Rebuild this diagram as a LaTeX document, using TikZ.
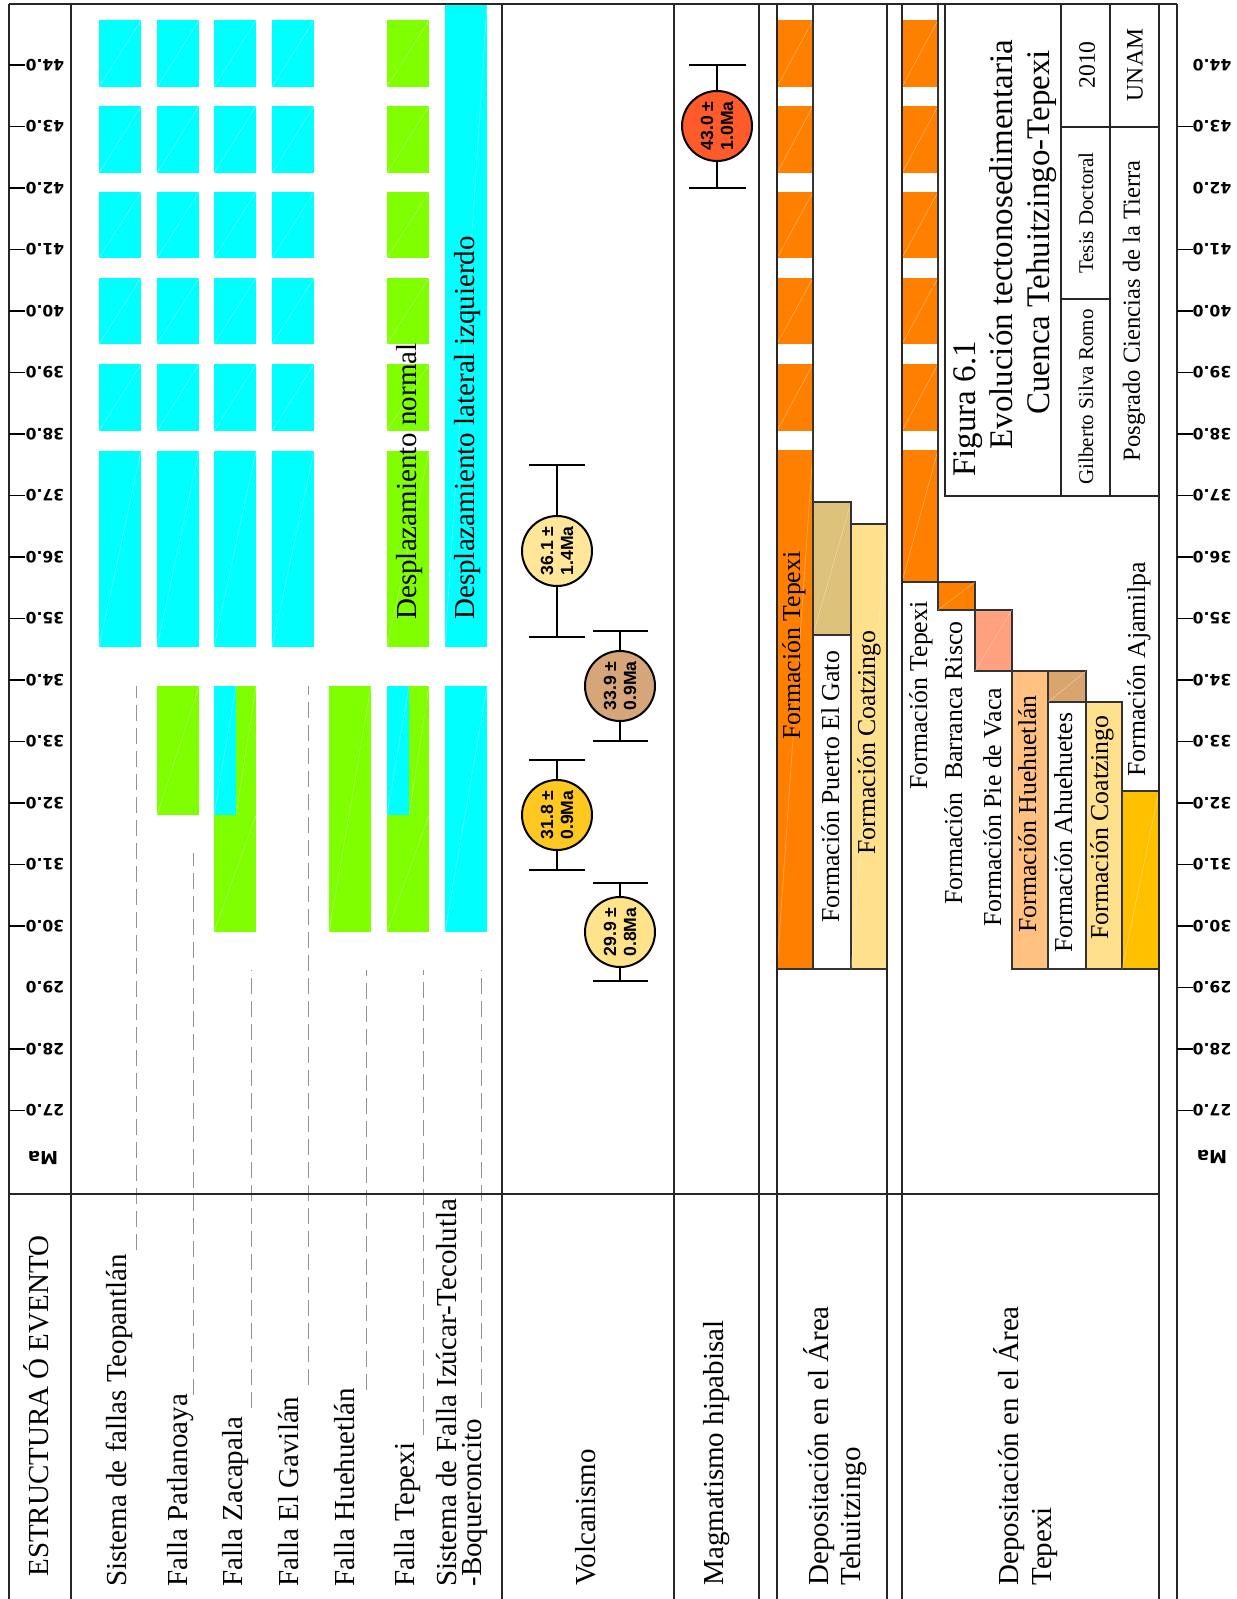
\documentclass[tikz,border=0pt]{standalone}
\usepackage{fontspec}
\setmainfont{Liberation Serif}
\newfontfamily\axisfont{DejaVu Sans}
\newfontfamily\agefont{Liberation Sans}

\definecolor{fcyan}{HTML}{00FFFF}
\definecolor{fgreen}{HTML}{80FF00}
\definecolor{forange}{HTML}{FF8000}
\definecolor{gato}{HTML}{DCC27A}
\definecolor{coatz}{HTML}{FFE08C}
\definecolor{pievaca}{HTML}{FFA07F}
\definecolor{hueh}{HTML}{FFC080}
\definecolor{ahueh}{HTML}{D9A46E}
\definecolor{ajam}{HTML}{FFC000}
\definecolor{ageA}{HTML}{FFE699}
\definecolor{ageB}{HTML}{D6A57A}
\definecolor{ageC}{HTML}{FFC820}
\definecolor{ageD}{HTML}{FFE38A}
\definecolor{ageE}{HTML}{FF5A2A}

\tikzset{
  sect/.style={line width=0.75pt, draw=black!85},
  fmline/.style={line width=0.75pt, draw=black!80},
  streak/.style={white, line width=0.3pt, opacity=0.35},
  leader/.style={draw=gray!85, line width=0.5pt, dash pattern=on 8pt off 3.5pt},
  axtick/.style={line width=0.9pt},
  ebar/.style={line width=1pt},
  agelbl/.style={rotate=180, inner sep=0pt, font=\axisfont\bfseries\fontsize{7.8}{9}\selectfont},
  hdr/.style={rotate=90, anchor=base west, inner sep=0pt, font=\fontsize{14.5}{16}\selectfont},
  fmlbl/.style={rotate=90, anchor=base west, inner sep=0pt, font=\fontsize{12.9}{14}\selectfont},
  cell/.style={rotate=90, inner sep=0pt},
  age/.style={circle, draw, line width=1pt, minimum size=35pt, inner sep=0pt,
              align=center, rotate=90, font=\agefont\bfseries\fontsize{8.8}{10}\selectfont}
}

\newcommand\faultblk[5]{\fill[#5] (#1,#2) rectangle (#3,#4); \draw[streak] (#1,#4) -- (#3,#2);}

\begin{document}
\begin{tikzpicture}[x=0.5pt,y=-0.5pt]
\useasboundingbox (0,0) rectangle (1236,1599);

% faults
\foreach \xa/\xb in {99/141,157/199,214/256,272/314}{
  \foreach \ya/\yb in {20/87,106/173,192/258,278/344,364/431,451/647}
    \faultblk{\xa}{\ya}{\xb}{\yb}{fcyan};
}
\foreach \ya/\yb in {20/87,106/173,192/258,278/344,364/431,451/647}
  \faultblk{387}{\ya}{429}{\yb}{fgreen};
\faultblk{445}{4}{487}{647}{fcyan};
\faultblk{157}{686}{199}{815}{fgreen};
\faultblk{214}{686}{236}{815}{fcyan};
\faultblk{236}{686}{256}{815}{fgreen};
\faultblk{214}{815}{256}{932}{fgreen};
\faultblk{329}{686}{371}{932}{fgreen};
\faultblk{387}{686}{409}{815}{fcyan};
\faultblk{409}{686}{429}{815}{fgreen};
\faultblk{387}{815}{429}{932}{fgreen};
\faultblk{445}{686}{487}{932}{fcyan};

\node[hdr] (dnorm) at (416,620) {Desplazamiento normal};
\node[hdr] (dlat) at (474,620) {Desplazamiento lateral izquierdo};

% leaders
\draw[leader] (136,1250) -- (136,686);
\draw[leader] (193,1395) -- (193,853);
\draw[leader] (251,1408) -- (251,970);
\draw[leader] (308,1385) -- (308,686);
\draw[leader] (366,1390) -- (366,970);
\draw[leader] (423,1435) -- (423,970);
\draw[leader] (481,1408) -- (481,970);

% depositacion
\foreach \xa/\xb in {777/813,902/938}{
  \foreach \ya/\yb in {20/87,106/173,192/258,278/344,364/431}
    \faultblk{\xa}{\ya}{\xb}{\yb}{forange};
}
\faultblk{777}{450}{813}{969}{forange};
\faultblk{902}{450}{938}{582}{forange};
\draw[fmline] (777,4) rectangle (813,969);
\draw[fmline, fill=gato] (813,502) rectangle (851,635);
\draw[streak] (813,635) -- (851,502);
\draw[fmline] (813,502) rectangle (851,969);
\draw[fmline, fill=coatz] (851,524) rectangle (887,969);
\draw[streak] (851,969) -- (887,524);

\draw[fmline] (902,4) rectangle (938,582);
\draw[fmline, fill=forange] (938,582) rectangle (975,610);
\draw[streak] (938,610) -- (975,582);
\draw[fmline, fill=pievaca] (975,610) rectangle (1012,671);
\draw[streak] (975,671) -- (1012,610);
\draw[fmline, fill=hueh] (1012,671) rectangle (1048,969);
\draw[fmline, fill=ahueh] (1048,671) rectangle (1086,702);
\draw[streak] (1048,702) -- (1086,671);
\draw[fmline] (1048,702) -- (1048,969) -- (1086,969);
\draw[fmline, fill=coatz] (1086,702) rectangle (1122,969);
\draw[fmline, fill=ajam] (1122,791) rectangle (1159,969);
\draw[streak] (1122,969) -- (1159,791);

\node[fmlbl] (t1) at (800,740) {Formación Tepexi};
\node[fmlbl] (t2) at (839,923) {Formación Puerto El Gato};
\node[fmlbl] (t3) at (875,855) {Formación Coatzingo};
\node[fmlbl] (p1) at (927,790) {Formación Tepexi};
\node[fmlbl] (p2) at (962,905) {Formación\ \ Barranca Risco};
\node[fmlbl] (p3) at (1001,927) {Formación Pie de Vaca};
\node[fmlbl] (p4) at (1036,933) {Formación Huehuetlán};
\node[fmlbl] (p5) at (1072,953) {Formación Ahuehuetes};
\node[fmlbl] (p6) at (1108,940) {Formación Coatzingo};
\node[fmlbl] (p7) at (1145,777) {Formación Ajamilpa};

% volcanismo y magmatismo
\draw[ebar] (557,465) -- (557,637) (529,465) -- (585,465) (529,637) -- (585,637);
\draw[ebar] (620,631) -- (620,741) (593,631) -- (648,631) (593,741) -- (648,741);
\draw[ebar] (557,760) -- (557,870) (529,760) -- (585,760) (529,870) -- (585,870);
\draw[ebar] (620,883) -- (620,981) (593,883) -- (648,883) (593,981) -- (648,981);
\draw[ebar] (717,65) -- (717,188) (689,65) -- (746,65) (689,188) -- (746,188);
\node[age, fill=ageA] (v361) at (557,551) {36.1 ±\\1.4Ma};
\node[age, fill=ageB] (v339) at (620,686) {33.9 ±\\0.9Ma};
\node[age, fill=ageC] (v318) at (557,815) {31.8 ±\\0.9Ma};
\node[age, fill=ageD] (v299) at (620,932) {29.9 ±\\0.8Ma};
\node[age, fill=ageE] (m430) at (717,126) {43.0 ±\\1.0Ma};

% cuadro de titulo
\draw[sect] (945,4) rectangle (1159,496);
\draw[sect] (1061,4) -- (1061,496) (1110,4) -- (1110,496);
\draw[sect] (1061,299) -- (1110,299) (1061,127) -- (1159,127);
\node[hdr, font=\fontsize{16.5}{18}\selectfont] (fig) at (975,477) {Figura 6.1};
\node[hdr, font=\fontsize{16.5}{18}\selectfont] (tit1) at (1012,450) {Evolución tectonosedimentaria};
\node[hdr, font=\fontsize{16.5}{18}\selectfont] (tit2) at (1049,415) {Cuenca Tehuitzingo-Tepexi};
\node[cell, font=\fontsize{10.5}{12}\selectfont] (autor) at (1086,397) {Gilberto Silva Romo};
\node[cell, font=\fontsize{10.5}{12}\selectfont] (tesis) at (1086,213) {Tesis Doctoral};
\node[cell, font=\fontsize{11.8}{13}\selectfont] (anio) at (1087,65) {2010};
\node[cell, font=\fontsize{11.8}{13}\selectfont] (unam) at (1135,65) {UNAM};
\node[cell, font=\fontsize{12.3}{14}\selectfont] (posg) at (1134,311) {Posgrado Ciencias de la Tierra};

% lineas de la tabla
\draw[sect] (9,4) -- (1177,4);
\foreach \x in {9,71,502,674,759,777,887,902,1159,1177}
  \draw[sect] (\x,4) -- (\x,1599);
\draw[sect] (9,1194) -- (1159,1194);

% escala de tiempo
\foreach[evaluate={\yy=65+(44-\t)*61.5;}] \t in {27,...,44}{
  \node[agelbl] (l\t) at (45,\yy) {\t.0};
  \node[agelbl] (r\t) at (1212,\yy) {\t.0};
}
\foreach[evaluate={\yy=65+(44-\t)*61.5;}] \t in {27,28,30,31,32,33,34,35,36,37,38,39,40,41,42,43,44}
  \draw[axtick] (9,\yy) -- (25,\yy);
\foreach[evaluate={\yy=65+(44-\t)*61.5;}] \t in {27,...,41,43}
  \draw[axtick] (1177,\yy) -- (1193,\yy);
\node[agelbl, font=\axisfont\bfseries\fontsize{9}{10}\selectfont] (mal) at (43,1158) {Ma};
\node[agelbl, font=\axisfont\bfseries\fontsize{9}{10}\selectfont] (mar) at (1212,1157) {Ma};

% encabezados
\node[hdr] (estr) at (48,1577) {ESTRUCTURA Ó EVENTO};
\node[hdr] (f1) at (126,1587) {Sistema de fallas Teopantlán};
\node[hdr] (f2) at (187,1587) {Falla Patlanoaya};
\node[hdr] (f3) at (242,1587) {Falla Zacapala};
\node[hdr] (f4) at (298,1587) {Falla El Gavilán};
\node[hdr] (f5) at (354,1587) {Falla Huehuetlán};
\node[hdr] (f6) at (414,1587) {Falla Tepexi};
\node[hdr] (f7a) at (456,1587) {Sistema de Falla Izúcar-Tecolutla};
\node[hdr] (f7b) at (481,1587) {-Boqueroncito};
\node[hdr] (volc) at (595,1586) {Volcanismo};
\node[hdr] (magm) at (723,1586) {Magmatismo hipabisal};
\node[hdr] (dep1a) at (828,1586) {Depositación en el Área};
\node[hdr] (dep1b) at (860,1586) {Tehuitzingo};
\node[hdr] (dep2a) at (1018,1586) {Depositación en el Área};
\node[hdr] (dep2b) at (1051,1586) {Tepexi};

\end{tikzpicture}
\end{document}
